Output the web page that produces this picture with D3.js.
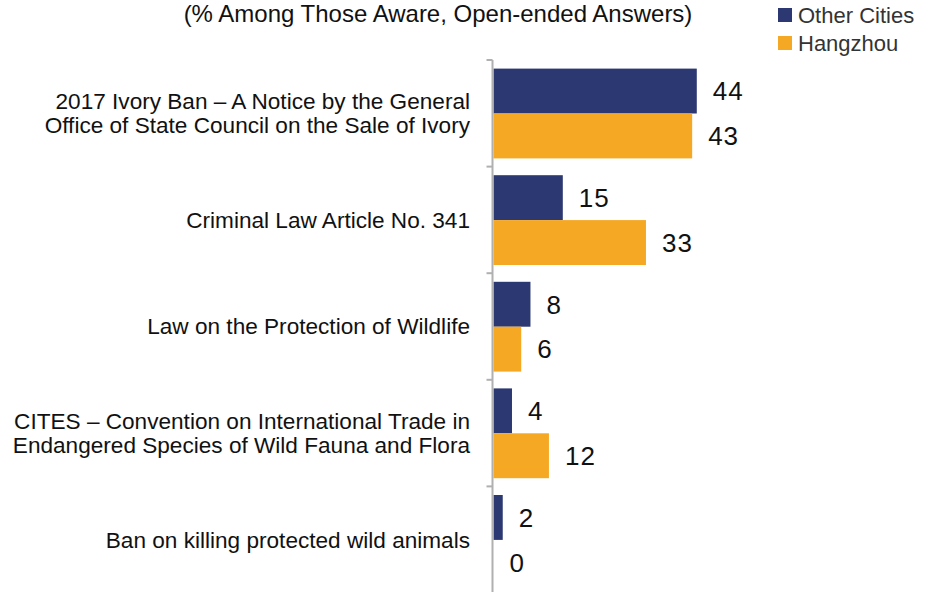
<!DOCTYPE html>
<html>
<head>
<meta charset="utf-8">
<script src="https://cdn.jsdelivr.net/npm/d3@7"></script>
<style>
  html, body { margin: 0; padding: 0; background: #fff; }
  svg { display: block; font-family: "Liberation Sans", Arial, sans-serif; }
</style>
</head>
<body>
<svg id="chart" width="933" height="592"></svg>
<script>
const title = "(% Among Those Aware, Open-ended Answers)";
const categories = [
  "2017 Ivory Ban \u2013 A Notice by the General\nOffice of State Council on the Sale of Ivory",
  "Criminal Law Article No. 341",
  "Law on the Protection of Wildlife",
  "CITES \u2013 Convention on International Trade in\nEndangered Species of Wild Fauna and Flora",
  "Ban on killing protected wild animals"
];
const seriesNames = ["Other Cities", "Hangzhou"];
const otherCities = [44, 15, 8, 4, 2];
const hangzhou = [43, 33, 6, 12, 0];
const colors = ["#2b3871", "#f5a823"];

const svg = d3.select("#chart");
const values = [otherCities, hangzhou];

const x = d3.scaleLinear().domain([0, 50]).range([493.5, 493.5 + 231]);
const y0 = d3.scaleBand().domain(categories).range([60, 593]).padding(0);
const y1 = d3.scaleBand().domain(seriesNames).range([8.6, y0.bandwidth() - 8.2]).padding(0);

// title
svg.append("text")
  .attr("x", 438).attr("y", 22)
  .attr("text-anchor", "middle")
  .attr("font-size", 24).attr("fill", "#111")
  .text(title);

// legend
const legend = svg.append("g");
seriesNames.forEach((s, i) => {
  legend.append("rect")
    .attr("x", 778).attr("y", 8 + i * 28).attr("width", 14).attr("height", 14)
    .attr("fill", colors[i]);
  legend.append("text")
    .attr("x", 798).attr("y", 15 + i * 28).attr("dy", "0.35em")
    .attr("font-size", 22).attr("fill", "#333")
    .text(s);
});

// bars
const groups = svg.selectAll("g.cat").data(categories).join("g")
  .attr("class", "cat")
  .attr("transform", d => `translate(0,${y0(d)})`);

seriesNames.forEach((s, si) => {
  groups.append("rect")
    .attr("x", x(0))
    .attr("y", y1(s))
    .attr("width", (d, i) => x(values[si][i]) - x(0))
    .attr("height", y1.bandwidth())
    .attr("fill", colors[si]);
  groups.append("text")
    .attr("x", (d, i) => x(values[si][i]) + 16)
    .attr("y", y1(s) + y1.bandwidth() / 2)
    .attr("dy", "0.36em")
    .attr("font-size", 26).attr("letter-spacing", 1).attr("fill", "#111")
    .text((d, i) => values[si][i]);
});

// axis
const axis = d3.axisLeft(y0).tickSize(0).tickFormat("");
const axg = svg.append("g").attr("transform", "translate(492.5,0)").call(axis);
axg.select(".domain").attr("stroke", "#b0b0b0").attr("stroke-width", 2)
  .attr("d", `M0,${y0.range()[0]}V${y0.range()[1]}`);
axg.selectAll(".tick").remove();
const boundaries = categories.map(c => y0(c)).concat([y0.range()[1]]);
axg.selectAll("line.sep").data(boundaries).join("line")
  .attr("class", "sep")
  .attr("x1", -6).attr("x2", 0)
  .attr("y1", d => d).attr("y2", d => d)
  .attr("stroke", "#b0b0b0").attr("stroke-width", 2);

// category labels
groups.each(function(d) {
  const lines = d.split("\n");
  const g = d3.select(this);
  const lh = 24.4;
  const mid = y0.bandwidth() / 2;
  const t = g.append("text")
    .attr("text-anchor", "end")
    .attr("font-size", 22.6).attr("fill", "#111");
  lines.forEach((ln, i) => {
    t.append("tspan")
      .attr("x", 470)
      .attr("y", mid + (i - (lines.length - 1) / 2) * lh)
      .attr("dy", "0.35em")
      .text(ln);
  });
});
</script>
</body>
</html>
